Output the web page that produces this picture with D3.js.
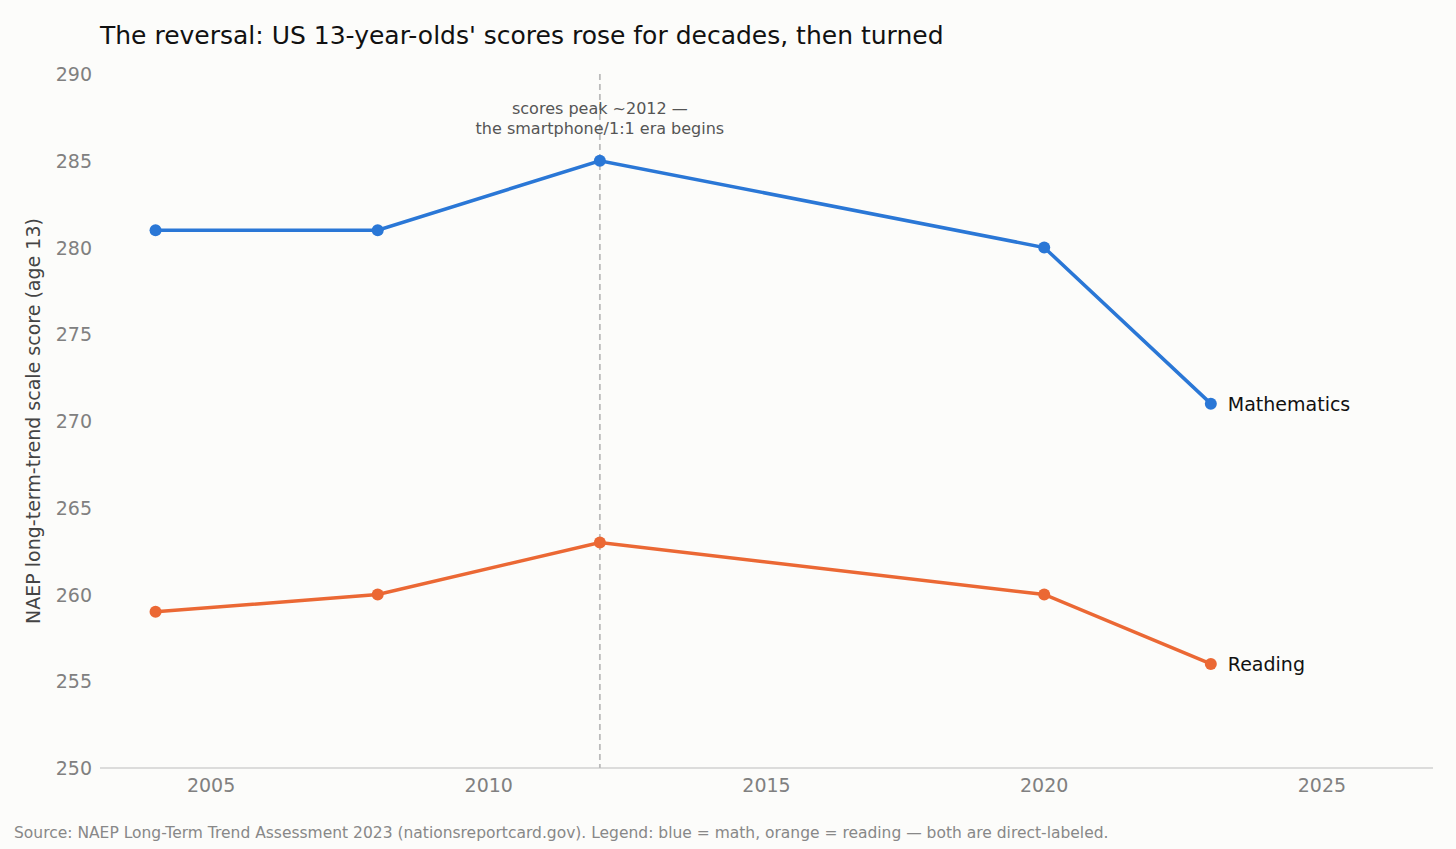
<!DOCTYPE html>
<html><head><meta charset="utf-8">
<script src="https://cdn.jsdelivr.net/npm/d3@7"></script>
<style>body{margin:0;background:#fcfcfa;font-family:"DejaVu Sans",sans-serif}</style>
</head><body><svg id="c" width="1456" height="849"></svg>
<script>
const years = [2004, 2008, 2012, 2020, 2023];
const math = [281, 281, 285, 280, 271];
const reading = [259, 260, 263, 260, 256];
const xTicks = [2005, 2010, 2015, 2020, 2025];
const yTicks = [250, 255, 260, 265, 270, 275, 280, 285, 290];

const svg = d3.select("#c");
svg.append("rect").attr("width", 1456).attr("height", 849).attr("fill", "#fcfcfa");
const x = d3.scaleLinear().domain([2003, 2027]).range([100, 1433]);
const y = d3.scaleLinear().domain([250, 290]).range([768, 74]);

svg.append("text").attr("x", 100).attr("y", 44).attr("font-size", 25).attr("fill", "#111")
  .text("The reversal: US 13-year-olds' scores rose for decades, then turned");

svg.append("line").attr("x1", 100).attr("x2", 1433).attr("y1", 768).attr("y2", 768)
  .attr("stroke", "#bbb").attr("stroke-width", 1.2);

yTicks.forEach(t => svg.append("text").attr("x", 92).attr("y", y(t) + 7).attr("text-anchor", "end")
  .attr("font-size", 19).attr("fill", "#808080").text(t));
xTicks.forEach(t => svg.append("text").attr("x", x(t)).attr("y", 792).attr("text-anchor", "middle")
  .attr("font-size", 19).attr("fill", "#808080").text(t));

svg.append("text").attr("transform", "translate(40,421) rotate(-90)").attr("text-anchor", "middle")
  .attr("font-size", 19).attr("fill", "#444").text("NAEP long-term-trend scale score (age 13)");

svg.append("line").attr("x1", x(2012)).attr("x2", x(2012)).attr("y1", 74).attr("y2", 768)
  .attr("stroke", "#bbb").attr("stroke-width", 1.8).attr("stroke-dasharray", "6,4");
svg.append("text").attr("x", x(2012)).attr("y", 114).attr("text-anchor", "middle")
  .attr("font-size", 16).attr("fill", "#555").text("scores peak ~2012 —");
svg.append("text").attr("x", x(2012)).attr("y", 134).attr("text-anchor", "middle")
  .attr("font-size", 16).attr("fill", "#555").text("the smartphone/1:1 era begins");

const line = d3.line().x((d, i) => x(years[i])).y(d => y(d));
[[math, "#2a77d6", "Mathematics"], [reading, "#eb6834", "Reading"]].forEach(([vals, col, name]) => {
  svg.append("path").attr("d", line(vals)).attr("fill", "none").attr("stroke", col).attr("stroke-width", 3.5);
  vals.forEach((v, i) => svg.append("circle").attr("cx", x(years[i])).attr("cy", y(v)).attr("r", 6).attr("fill", col));
  svg.append("text").attr("x", x(2023) + 17).attr("y", y(vals[4]) + 7).attr("font-size", 19)
    .attr("fill", "#111").text(name);
});

svg.append("text").attr("x", 14).attr("y", 838).attr("font-size", 15.5).attr("fill", "#888")
  .text("Source: NAEP Long-Term Trend Assessment 2023 (nationsreportcard.gov). Legend: blue = math, orange = reading — both are direct-labeled.");
</script></body></html>
